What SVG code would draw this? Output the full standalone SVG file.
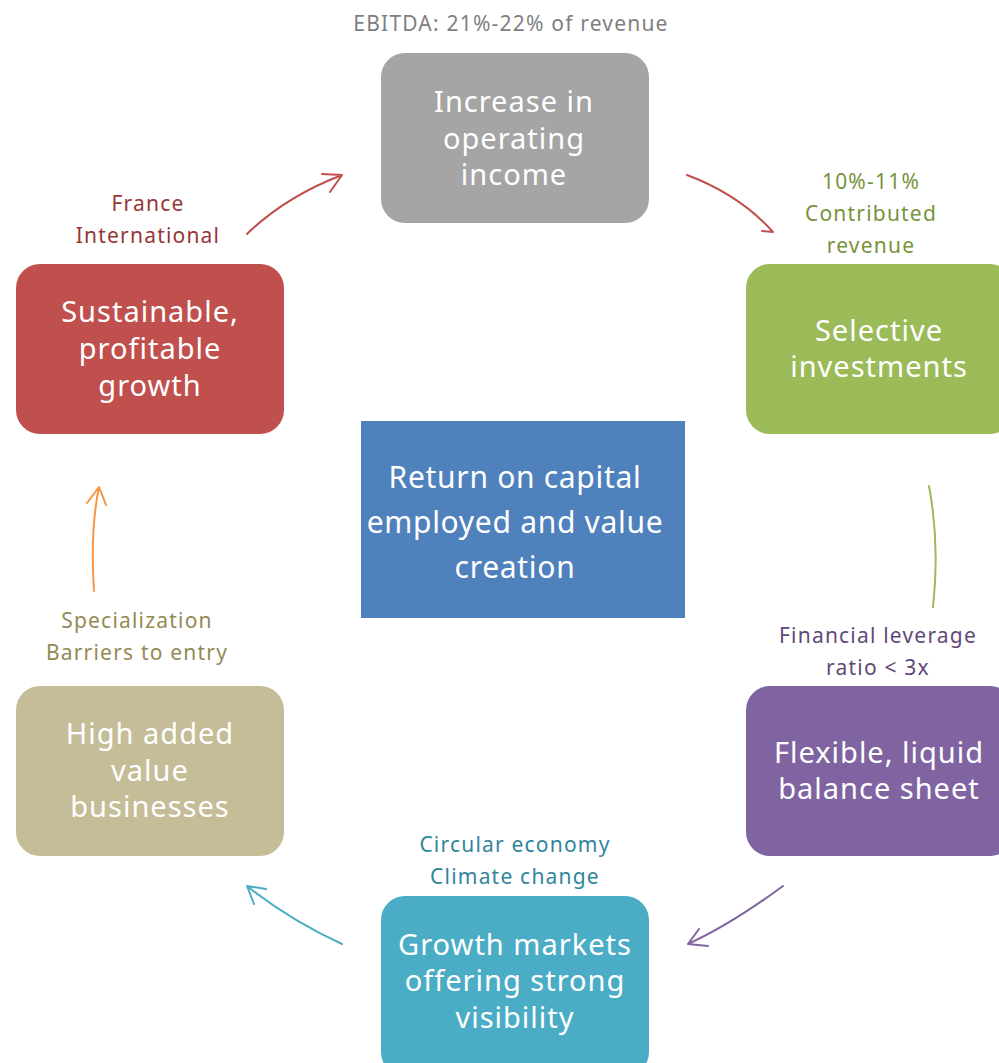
<svg xmlns="http://www.w3.org/2000/svg" width="999" height="1063" viewBox="0 0 999 1063">
<style>
.box{stroke:none}
.bt{font-family:"Noto Sans",Lato,sans-serif;font-size:29px;fill:#fff;text-anchor:middle;letter-spacing:1px}
.ct{font-size:30px;letter-spacing:0.7px}
.lb{font-family:"Noto Sans",Lato,sans-serif;font-size:21px;text-anchor:middle;letter-spacing:1.2px}
.ar{fill:none;stroke-width:2;stroke-linecap:round;stroke-linejoin:round}
</style>
<rect width="999" height="1063" fill="#fff"/>
<g id="connectors">
<path class="ar" stroke="#C0504D" d="M247,234 Q285,197 342,175 M322,174 L342,175 L330,192"/>
<path class="ar" stroke="#C0504D" d="M687,175 Q740,195 773,232 M762,231 L773,232"/>
<path class="ar" stroke="#9BBB59" d="M929,486 Q940,545 933,607"/>
<path class="ar" stroke="#8064A2" d="M783,886 Q730,925 688,944 M699,929 L688,944 L708,946"/>
<path class="ar" stroke="#4BACC6" d="M342,944 Q290,920 247,886 M266,889 L247,886 L254,904"/>
<path class="ar" stroke="#F79646" d="M94,591 Q90,530 99,487 M87,503 L99,487 L106,505"/>
</g>
<g id="n-ebitda"><text class="lb" x="511" y="31" fill="#7F7F7F">EBITDA: 21%-22% of revenue</text></g>
<g id="n-operating">
<rect class="box" x="381" y="53" width="268" height="170" rx="24" fill="#A5A5A5"/>
<text class="bt" x="514" y="112">Increase in</text>
<text class="bt" x="514" y="149">operating</text>
<text class="bt" x="514" y="185">income</text>
</g>
<g id="n-contrib"><text class="lb" x="871" y="189" fill="#77933C">10%-11%</text><text class="lb" x="871" y="221" fill="#77933C">Contributed</text><text class="lb" x="871" y="253" fill="#77933C">revenue</text></g>
<g id="n-selective">
<rect class="box" x="746" y="264" width="268" height="170" rx="24" fill="#9BBB59"/>
<text class="bt" x="879" y="341">Selective</text>
<text class="bt" x="879" y="377">investments</text>
</g>
<g id="n-france"><text class="lb" x="148" y="211" fill="#953735">France</text><text class="lb" x="148" y="243" fill="#953735">International</text></g>
<g id="n-sustainable">
<rect class="box" x="16" y="264" width="268" height="170" rx="24" fill="#C0504D"/>
<text class="bt" x="150" y="322">Sustainable,</text>
<text class="bt" x="150" y="359">profitable</text>
<text class="bt" x="150" y="396">growth</text>
</g>
<g id="n-center">
<rect class="box" x="361" y="421" width="324" height="197" fill="#4F81BD"/>
<text class="bt ct" x="515" y="488">Return on capital</text>
<text class="bt ct" x="515" y="533">employed and value</text>
<text class="bt ct" x="515" y="578">creation</text>
</g>
<g id="n-leverage"><text class="lb" x="878" y="643" fill="#5F497A">Financial leverage</text><text class="lb" x="878" y="675" fill="#5F497A">ratio &lt; 3x</text></g>
<g id="n-flexible">
<rect class="box" x="746" y="686" width="268" height="170" rx="24" fill="#8064A2"/>
<text class="bt" x="879" y="763">Flexible, liquid</text>
<text class="bt" x="879" y="799">balance sheet</text>
</g>
<g id="n-special"><text class="lb" x="137" y="628" fill="#948A54">Specialization</text><text class="lb" x="137" y="660" fill="#948A54">Barriers to entry</text></g>
<g id="n-high">
<rect class="box" x="16" y="686" width="268" height="170" rx="24" fill="#C4BD97"/>
<text class="bt" x="150" y="744">High added</text>
<text class="bt" x="150" y="781">value</text>
<text class="bt" x="150" y="817">businesses</text>
</g>
<g id="n-circular"><text class="lb" x="515" y="852" fill="#31859C">Circular economy</text><text class="lb" x="515" y="884" fill="#31859C">Climate change</text></g>
<g id="n-growth">
<rect class="box" x="381" y="896" width="268" height="180" rx="24" fill="#4BACC6"/>
<text class="bt" x="515" y="955">Growth markets</text>
<text class="bt" x="515" y="991">offering strong</text>
<text class="bt" x="515" y="1028">visibility</text>
</g>
</svg>
